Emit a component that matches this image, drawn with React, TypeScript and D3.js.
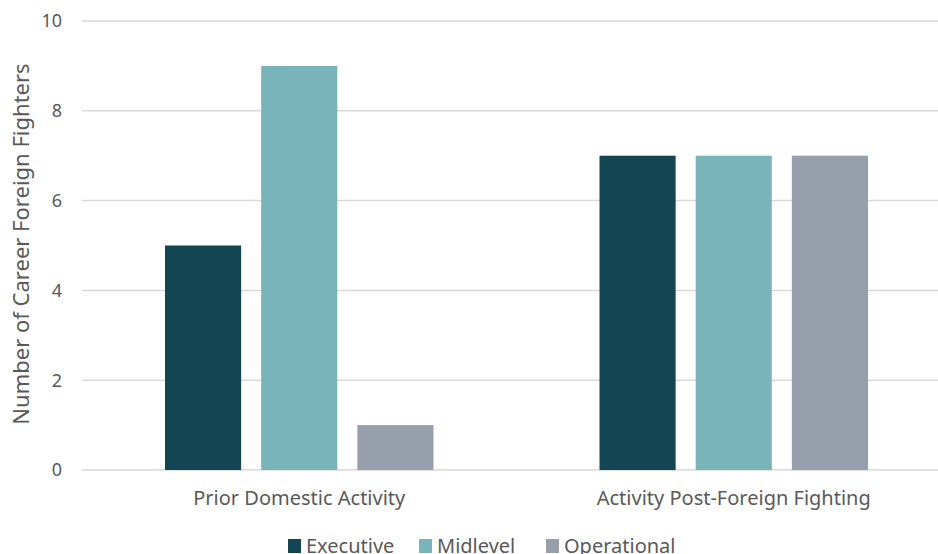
import * as React from "react";
import * as d3 from "d3";

const categories = ["Prior Domestic Activity", "Activity Post-Foreign Fighting"];
const seriesNames = ["Executive", "Midlevel", "Operational"];
const executive = [5, 7];
const midlevel = [9, 7];
const operational = [1, 7];
const yTicks = [0, 2, 4, 6, 8, 10];
const colors = ["#134652", "#7AB4BB", "#979FAD"];

const W = 938;
const H = 554;
const FONT = "'Noto Sans', 'Open Sans', sans-serif";
const TEXT = "#595959";

export default function App() {
  const values = [executive, midlevel, operational];
  const x0 = d3.scaleBand<string>().domain(categories).range([82, 951]).paddingInner(0).paddingOuter(0);
  const x1 = d3.scaleBand<string>().domain(seriesNames).range([83, x0.bandwidth() - 83]).paddingInner(20 / 96).paddingOuter(0);
  const y = d3.scaleLinear().domain([0, 10]).range([470, 21]);

  return (
    <svg width={W} height={H} style={{ display: "block", position: "absolute", left: 0, top: 0 }} fontFamily={FONT}>
      <rect width={W} height={H} fill="#fff" />
      {yTicks.map((t) => (
        <g key={t}>
          <line x1={82} x2={W} y1={y(t)} y2={y(t)} stroke="#d9d9d9" strokeWidth={1.5} />
          <text x={62} y={y(t)} dy="0.35em" textAnchor="end" fontSize={18} fill={TEXT}>{t}</text>
        </g>
      ))}
      {categories.map((c, ci) => (
        <g key={c} transform={`translate(${x0(c)},0)`}>
          {seriesNames.map((s, si) => (
            <rect key={s} x={x1(s)} width={x1.bandwidth()} y={y(values[si][ci])}
              height={y(0) - y(values[si][ci])} fill={colors[si]} />
          ))}
          <text x={x0.bandwidth() / 2} y={505} textAnchor="middle" fontSize={20} fill={TEXT}>{c}</text>
        </g>
      ))}
      <text transform={`translate(29,244) rotate(-90)`} textAnchor="middle" fontSize={22} fill={TEXT}>
        Number of Career Foreign Fighters
      </text>
      {[
        { x: 288, name: seriesNames[0], c: colors[0] },
        { x: 419, name: seriesNames[1], c: colors[1] },
        { x: 546, name: seriesNames[2], c: colors[2] },
      ].map((l) => (
        <g key={l.name}>
          <rect x={l.x} y={539} width={13} height={14} fill={l.c} />
          <text x={l.x + 18} y={553} fontSize={20} fill={TEXT}>{l.name}</text>
        </g>
      ))}
    </svg>
  );
}
